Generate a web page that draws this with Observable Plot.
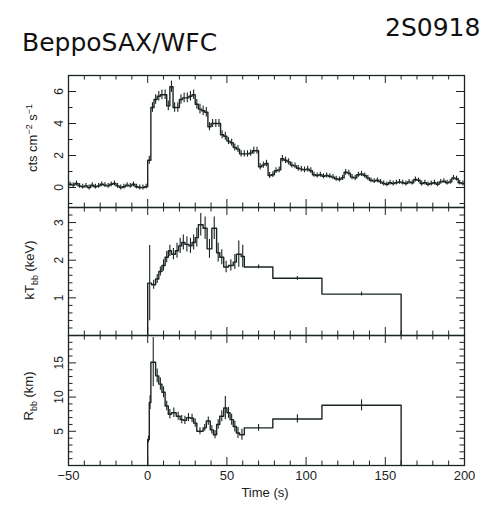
<!DOCTYPE html>
<html><head><meta charset="utf-8">
<script src="https://cdn.jsdelivr.net/npm/d3@7"></script>
<script src="https://cdn.jsdelivr.net/npm/@observablehq/plot@0.6"></script>
<style>
body{margin:0;background:#fff;}
#wrap{position:relative;width:486px;height:507px;overflow:hidden;font-family:"Liberation Sans",Arial,sans-serif;color:#1b2222;}
.panel{position:absolute;left:0;}
.ttl{position:absolute;font-family:"DejaVu Sans",sans-serif;white-space:nowrap;color:#111;}
.ylab{position:absolute;transform:translate(-50%,-50%) rotate(-90deg);white-space:nowrap;font-size:13px;}
.ylab sup,.ylab sub{font-size:9px;}
.xlab{position:absolute;transform:translateX(-50%);font-size:13px;white-space:nowrap;}
</style></head>
<body><div id="wrap">
<div class="ttl" style="left:22px;top:28px;font-size:25px;">BeppoSAX/WFC</div>
<div class="ttl" style="left:385px;top:13px;font-size:25px;">2S0918</div>
<div class="ylab" style="left:32px;top:138px;">cts cm<sup>−2</sup> s<sup>−1</sup></div>
<div class="ylab" style="left:31px;top:270px;">kT<sub>bb</sub> (keV)</div>
<div class="ylab" style="left:30px;top:396px;">R<sub>bb</sub> (km)</div>
<div class="xlab" style="left:265px;top:485px;">Time (s)</div>
</div>
<script>
// ---------- data ----------
// light curve: 2 s bins starting at -50 s
const ctsT0 = -50, ctsBin = 2;
const ctsRate = [
 0.2,0.15,0.25,0.1,0.05,0.1,0.0,0.15,0.05,0.1,0.2,0.15,0.1,0.2,0.25,0.1,0.0,0.05,0.15,0.1,0.2,0.05,0.0,0.0,0.05,
 1.7,5.0,5.5,5.7,5.8,5.8,5.1,6.3,5.0,5.0,5.5,5.6,5.6,5.7,5.8,5.2,4.9,4.8,4.7,3.8,4.0,4.0,4.0,3.3,3.2,
 2.9,2.8,2.5,2.4,2.1,2.1,2.1,2.15,2.3,2.3,1.3,1.4,1.5,0.75,0.8,1.05,1.1,1.8,1.7,1.6,1.4,1.35,1.2,1.15,1.1,
 1.15,1.05,0.8,0.75,0.8,0.7,0.75,0.7,0.65,0.55,0.5,0.6,0.95,0.9,0.65,0.6,0.8,0.85,0.75,0.6,0.45,0.4,0.45,0.35,0.25,
 0.2,0.3,0.25,0.3,0.35,0.3,0.25,0.35,0.3,0.5,0.45,0.25,0.3,0.2,0.25,0.3,0.2,0.35,0.4,0.3,0.35,0.6,0.55,0.3,0.25
];
const ctsErr = [
 0.15,0.15,0.15,0.15,0.15,0.15,0.15,0.15,0.15,0.15,0.15,0.15,0.15,0.15,0.15,0.15,0.15,0.15,0.15,0.15,0.15,0.15,0.15,0.15,0.15,
 0.25,0.3,0.3,0.3,0.3,0.3,0.3,0.35,0.3,0.3,0.3,0.3,0.3,0.3,0.3,0.3,0.3,0.3,0.3,0.25,0.25,0.25,0.25,0.25,0.25,
 0.22,0.22,0.22,0.22,0.2,0.2,0.2,0.2,0.22,0.22,0.2,0.2,0.2,0.18,0.18,0.18,0.18,0.2,0.2,0.2,0.18,0.18,0.18,0.18,0.18,
 0.18,0.18,0.16,0.16,0.16,0.16,0.16,0.16,0.16,0.16,0.16,0.16,0.18,0.18,0.16,0.16,0.16,0.16,0.16,0.16,0.15,0.15,0.15,0.15,0.15,
 0.15,0.15,0.15,0.15,0.15,0.15,0.15,0.15,0.15,0.15,0.15,0.15,0.15,0.15,0.15,0.15,0.15,0.15,0.15,0.15,0.15,0.15,0.15,0.15,0.15
];
// blackbody temperature: bin edges (s), values (keV), errors
const ktEdges = [0,2.5,5,7,9,11,13,15,17.5,19.5,21.5,23.5,26,28,30,32,35,37.5,40.5,43.5,45.5,48,51,54,56,59,61,79,110,160];
const ktVal = [1.39,1.35,1.5,1.7,1.86,2.08,2.25,2.16,2.25,2.38,2.47,2.42,2.38,2.47,2.6,2.94,2.85,2.3,2.85,2.2,2.08,1.82,1.86,1.95,2.16,2.1,1.82,1.52,1.1];
const ktErr = [1.0,0.12,0.12,0.12,0.15,0.15,0.15,0.15,0.2,0.2,0.2,0.2,0.2,0.2,0.25,0.3,0.3,0.25,0.3,0.25,0.2,0.15,0.15,0.2,0.35,0.3,0.05,0.05,0.05];
// blackbody radius: bin edges (s), values (km), errors
const rEdges = [0,1,2,5,7,9,11,13,15,18,20.5,22.5,24.5,27,29,31,35,37,39.5,41.5,43.5,45.5,48,50,52,54,56,58,61,79,110,160];
const rVal = [3.8,9.2,15.1,13.1,11.9,10.7,8.7,7.5,7.7,7.2,6.7,6.6,7.0,6.9,6.2,5.0,5.5,6.5,5.2,4.5,6.0,7.2,8.4,7.7,6.7,5.7,4.75,4.5,5.5,6.8,8.8];
const rErr = [0.5,1.0,3.6,1.0,0.9,0.8,0.7,0.7,0.7,0.6,0.6,0.6,0.6,0.6,0.6,0.5,0.5,0.6,0.6,0.6,0.7,0.8,1.7,0.8,0.8,0.8,0.8,0.8,0.5,0.6,0.8];

// axes / ticks
const xDomain = [-50, 200];
const xMajor = [-50, 0, 50, 100, 150, 200];
const xMinor = [-40,-30,-20,-10,10,20,30,40,60,70,80,90,110,120,130,140,160,170,180,190];
const y1Domain = [-1.25, 7], y1Major = [0, 2, 4, 6], y1Minor = [-1, 1, 3, 5];
const y2Domain = [0, 3.4], y2Major = [1, 2, 3],
      y2Minor = [0.2,0.4,0.6,0.8,1.2,1.4,1.6,1.8,2.2,2.4,2.6,2.8,3.2];
const y3Domain = [0, 19], y3Major = [5, 10, 15],
      y3Minor = [1,2,3,4,6,7,8,9,11,12,13,14,16,17,18];

// ---------- build tables ----------
const ctsSteps = ctsRate.map((v, i) => ({t: ctsT0 + i * ctsBin, v}));
ctsSteps.push({t: ctsT0 + ctsRate.length * ctsBin, v: ctsRate[ctsRate.length - 1]});
const ctsBars = ctsRate.map((v, i) => ({t: ctsT0 + (i + 0.5) * ctsBin, lo: v - ctsErr[i], hi: v + ctsErr[i]}));

function stepsFrom(edges, vals) {
  const s = [{t: edges[0], v: 0}];
  vals.forEach((v, i) => s.push({t: edges[i], v}));
  s.push({t: edges[edges.length - 1], v: vals[vals.length - 1]});
  s.push({t: edges[edges.length - 1], v: 0});
  return s;
}
function barsFrom(edges, vals, errs) {
  return vals.map((v, i) => ({t: (edges[i] + edges[i + 1]) / 2, lo: Math.max(0, v - errs[i]), hi: v + errs[i]}));
}
const ktSteps = stepsFrom(ktEdges, ktVal), ktBars = barsFrom(ktEdges, ktVal, ktErr);
const rSteps = stepsFrom(rEdges, rVal), rBars = barsFrom(rEdges, rVal, rErr);

// ---------- drawing ----------
const INK = "#1b2424";
const W = 486, ML = 68, MR = 22, MT = 10;
const PW = W - ML - MR;

function tickMarks(yMaj, yMin, ph) {
  const o = {stroke: INK, strokeWidth: 1};
  return [
    Plot.tickX(xMajor, {...o, x: d => d, insetTop: ph - 8}),
    Plot.tickX(xMajor, {...o, x: d => d, insetBottom: ph - 8}),
    Plot.tickX(xMinor, {...o, x: d => d, insetTop: ph - 4.5}),
    Plot.tickX(xMinor, {...o, x: d => d, insetBottom: ph - 4.5}),
    Plot.tickY(yMaj, {...o, y: d => d, insetRight: PW - 8}),
    Plot.tickY(yMaj, {...o, y: d => d, insetLeft: PW - 8}),
    Plot.tickY(yMin, {...o, y: d => d, insetRight: PW - 4.5}),
    Plot.tickY(yMin, {...o, y: d => d, insetLeft: PW - 4.5})
  ];
}

function panel({top, ph, mb, yDomain, yMaj, yMin, steps, bars, xAxis}) {
  const marks = [
    ...tickMarks(yMaj, yMin, ph),
    Plot.axisY(yMaj, {anchor: "left", tickSize: 0, tickPadding: 6, tickRotate: -90, label: null, fontSize: 12, fill: INK}),
    Plot.ruleX(bars, {x: "t", y1: "lo", y2: "hi", stroke: INK, strokeWidth: 1.1}),
    Plot.line(steps, {x: "t", y: "v", curve: "step-after", stroke: INK, strokeWidth: 1.4}),
    Plot.frame({stroke: INK, strokeWidth: 1.3})
  ];
  if (xAxis) marks.push(Plot.axisX(xMajor, {anchor: "bottom", tickSize: 0, tickPadding: 5, label: null, fontSize: 13, fill: INK}));
  const svg = Plot.plot({
    width: W, height: MT + ph + mb,
    marginLeft: ML, marginRight: MR, marginTop: MT, marginBottom: mb,
    style: {background: "transparent", overflow: "visible", fontFamily: "Liberation Sans, Arial, sans-serif", fontSize: "12px", color: INK},
    x: {domain: xDomain, axis: null},
    y: {domain: yDomain, axis: null},
    marks
  });
  svg.classList.add("panel");
  svg.style.position = "absolute";
  svg.style.top = (top - MT) + "px";
  svg.style.left = "0px";
  document.getElementById("wrap").appendChild(svg);
}

panel({top: 75, ph: 132, mb: 10, yDomain: y1Domain, yMaj: y1Major, yMin: y1Minor, steps: ctsSteps, bars: ctsBars});
panel({top: 207, ph: 128, mb: 10, yDomain: y2Domain, yMaj: y2Major, yMin: y2Minor, steps: ktSteps, bars: ktBars});
panel({top: 335, ph: 130, mb: 40, yDomain: y3Domain, yMaj: y3Major, yMin: y3Minor, steps: rSteps, bars: rBars, xAxis: true});
</script>
</body></html>
